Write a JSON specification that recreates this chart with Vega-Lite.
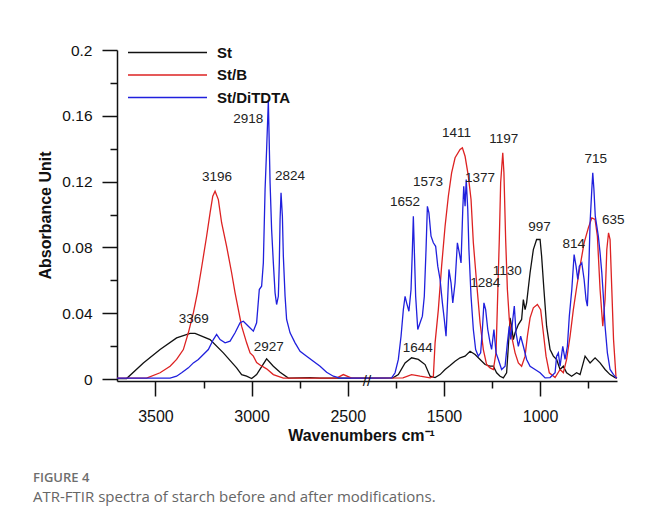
{
  "$schema": "https://vega.github.io/schema/vega-lite/v6.json",
  "width": 500,
  "height": 331,
  "autosize": "none",
  "padding": {"left": 117, "top": 50, "right": 29, "bottom": 145},
  "background": "white",
  "config": {"font": "Liberation Sans", "view": {"stroke": null}},
  "datasets": {
    "spectra": [
      {"s":"St","wn":600,"a":0.0006},{"s":"St","wn":610,"a":0.0009},{"s":"St","wn":636,"a":0.0027},{"s":"St","wn":662,"a":0.0058},{"s":"St","wn":688,"a":0.0098},{"s":"St","wn":714,"a":0.0129},{"s":"St","wn":740,"a":0.0098},{"s":"St","wn":766,"a":0.0139},{"s":"St","wn":792,"a":0.0027},{"s":"St","wn":810,"a":0.0038},{"s":"St","wn":836,"a":0.0017},{"s":"St","wn":862,"a":0.0038},{"s":"St","wn":879,"a":0.0078},{"s":"St","wn":896,"a":0.0058},{"s":"St","wn":914,"a":0.0119},{"s":"St","wn":931,"a":0.0139},{"s":"St","wn":948,"a":0.0179},{"s":"St","wn":966,"a":0.0321},{"s":"St","wn":980,"a":0.0544},{"s":"St","wn":992,"a":0.0747},{"s":"St","wn":1000,"a":0.0848},{"s":"St","wn":1018,"a":0.0848},{"s":"St","wn":1035,"a":0.0787},{"s":"St","wn":1052,"a":0.0646},{"s":"St","wn":1070,"a":0.0463},{"s":"St","wn":1078,"a":0.0422},{"s":"St","wn":1087,"a":0.0483},{"s":"St","wn":1096,"a":0.0362},{"s":"St","wn":1113,"a":0.0331},{"s":"St","wn":1130,"a":0.0281},{"s":"St","wn":1139,"a":0.024},{"s":"St","wn":1148,"a":0.0321},{"s":"St","wn":1156,"a":0.0372},{"s":"St","wn":1165,"a":0.0199},{"s":"St","wn":1174,"a":0.0038},{"s":"St","wn":1191,"a":0.0007},{"s":"St","wn":1208,"a":0.0017},{"s":"St","wn":1226,"a":0.0038},{"s":"St","wn":1243,"a":0.0078},{"s":"St","wn":1260,"a":0.0078},{"s":"St","wn":1286,"a":0.0088},{"s":"St","wn":1312,"a":0.0119},{"s":"St","wn":1338,"a":0.0149},{"s":"St","wn":1364,"a":0.0169},{"s":"St","wn":1390,"a":0.0139},{"s":"St","wn":1416,"a":0.0129},{"s":"St","wn":1442,"a":0.0108},{"s":"St","wn":1468,"a":0.0082},{"s":"St","wn":1494,"a":0.0058},{"s":"St","wn":1520,"a":0.0027},{"s":"St","wn":1546,"a":0.0009},{"s":"St","wn":1572,"a":0.0017},{"s":"St","wn":1598,"a":0.0088},{"s":"St","wn":1633,"a":0.0119},{"s":"St","wn":1668,"a":0.0129},{"s":"St","wn":1702,"a":0.0098},{"s":"St","wn":1737,"a":0.0027},{"s":"St","wn":1765,"a":0.0007},{"s":"St","wn":1900,"a":0.0006},
      {"s":"St","wn":2400,"a":0.0006},{"s":"St","wn":2644,"a":0.0006},{"s":"St","wn":2696,"a":0.0009},{"s":"St","wn":2809,"a":0.0006},{"s":"St","wn":2852,"a":0.0041},{"s":"St","wn":2887,"a":0.0078},{"s":"St","wn":2922,"a":0.0123},{"s":"St","wn":2974,"a":0.0027},{"s":"St","wn":3000,"a":0.0003},{"s":"St","wn":3026,"a":0.0017},{"s":"St","wn":3052,"a":0.0027},{"s":"St","wn":3078,"a":0.0068},{"s":"St","wn":3147,"a":0.0159},{"s":"St","wn":3216,"a":0.024},{"s":"St","wn":3294,"a":0.0278},{"s":"St","wn":3320,"a":0.0277},{"s":"St","wn":3390,"a":0.025},{"s":"St","wn":3476,"a":0.0179},{"s":"St","wn":3563,"a":0.0098},{"s":"St","wn":3650,"a":0.0003},{"s":"St","wn":3700,"a":0.0003},

      {"s":"St/B","wn":600,"a":0.0006},{"s":"St/B","wn":605,"a":0.0007},{"s":"St/B","wn":618,"a":0.024},{"s":"St/B","wn":627,"a":0.0544},{"s":"St/B","wn":636,"a":0.0848},{"s":"St/B","wn":644,"a":0.0889},{"s":"St/B","wn":653,"a":0.0787},{"s":"St/B","wn":662,"a":0.0483},{"s":"St/B","wn":674,"a":0.0321},{"s":"St/B","wn":688,"a":0.0544},{"s":"St/B","wn":702,"a":0.0868},{"s":"St/B","wn":714,"a":0.097},{"s":"St/B","wn":731,"a":0.098},{"s":"St/B","wn":749,"a":0.0919},{"s":"St/B","wn":771,"a":0.0828},{"s":"St/B","wn":792,"a":0.0686},{"s":"St/B","wn":809,"a":0.0564},{"s":"St/B","wn":827,"a":0.0422},{"s":"St/B","wn":844,"a":0.026},{"s":"St/B","wn":862,"a":0.0119},{"s":"St/B","wn":879,"a":0.0038},{"s":"St/B","wn":896,"a":0.0058},{"s":"St/B","wn":922,"a":0.0009},{"s":"St/B","wn":952,"a":0.0038},{"s":"St/B","wn":969,"a":0.0139},{"s":"St/B","wn":983,"a":0.0281},{"s":"St/B","wn":997,"a":0.0422},{"s":"St/B","wn":1014,"a":0.0453},{"s":"St/B","wn":1035,"a":0.0433},{"s":"St/B","wn":1052,"a":0.0372},{"s":"St/B","wn":1066,"a":0.026},{"s":"St/B","wn":1078,"a":0.0139},{"s":"St/B","wn":1096,"a":0.0078},{"s":"St/B","wn":1113,"a":0.0098},{"s":"St/B","wn":1130,"a":0.0159},{"s":"St/B","wn":1148,"a":0.026},{"s":"St/B","wn":1160,"a":0.0362},{"s":"St/B","wn":1170,"a":0.0544},{"s":"St/B","wn":1179,"a":0.0848},{"s":"St/B","wn":1188,"a":0.1253},{"s":"St/B","wn":1194,"a":0.1375},{"s":"St/B","wn":1205,"a":0.1193},{"s":"St/B","wn":1212,"a":0.0848},{"s":"St/B","wn":1222,"a":0.0443},{"s":"St/B","wn":1229,"a":0.0161},{"s":"St/B","wn":1243,"a":0.0058},{"s":"St/B","wn":1260,"a":0.0068},{"s":"St/B","wn":1278,"a":0.0088},{"s":"St/B","wn":1295,"a":0.0179},{"s":"St/B","wn":1312,"a":0.0342},{"s":"St/B","wn":1330,"a":0.0585},{"s":"St/B","wn":1347,"a":0.0828},{"s":"St/B","wn":1359,"a":0.1091},{"s":"St/B","wn":1373,"a":0.1233},{"s":"St/B","wn":1390,"a":0.1354},{"s":"St/B","wn":1404,"a":0.1405},{"s":"St/B","wn":1416,"a":0.1395},{"s":"St/B","wn":1442,"a":0.1345},{"s":"St/B","wn":1460,"a":0.1253},{"s":"St/B","wn":1477,"a":0.1111},{"s":"St/B","wn":1494,"a":0.0929},{"s":"St/B","wn":1512,"a":0.0686},{"s":"St/B","wn":1529,"a":0.0422},{"s":"St/B","wn":1546,"a":0.022},{"s":"St/B","wn":1555,"a":0.0015},{"s":"St/B","wn":1572,"a":0.0007},{"s":"St/B","wn":1624,"a":0.0017},{"s":"St/B","wn":1668,"a":0.0027},{"s":"St/B","wn":1713,"a":0.0007},{"s":"St/B","wn":1900,"a":0.0006},
      {"s":"St/B","wn":2400,"a":0.0006},{"s":"St/B","wn":2480,"a":0.0006},{"s":"St/B","wn":2523,"a":0.0027},{"s":"St/B","wn":2558,"a":0.0006},{"s":"St/B","wn":2835,"a":0.0006},{"s":"St/B","wn":2887,"a":0.0027},{"s":"St/B","wn":2922,"a":0.0062},{"s":"St/B","wn":2956,"a":0.0085},{"s":"St/B","wn":2974,"a":0.01},{"s":"St/B","wn":2991,"a":0.0139},{"s":"St/B","wn":3008,"a":0.0159},{"s":"St/B","wn":3026,"a":0.022},{"s":"St/B","wn":3052,"a":0.0321},{"s":"St/B","wn":3086,"a":0.0524},{"s":"St/B","wn":3104,"a":0.0646},{"s":"St/B","wn":3130,"a":0.0807},{"s":"St/B","wn":3156,"a":0.095},{"s":"St/B","wn":3173,"a":0.1091},{"s":"St/B","wn":3190,"a":0.1142},{"s":"St/B","wn":3202,"a":0.1111},{"s":"St/B","wn":3216,"a":0.101},{"s":"St/B","wn":3234,"a":0.0868},{"s":"St/B","wn":3260,"a":0.0678},{"s":"St/B","wn":3282,"a":0.0524},{"s":"St/B","wn":3303,"a":0.0402},{"s":"St/B","wn":3329,"a":0.0281},{"s":"St/B","wn":3355,"a":0.0179},{"s":"St/B","wn":3390,"a":0.0119},{"s":"St/B","wn":3424,"a":0.0078},{"s":"St/B","wn":3476,"a":0.0038},{"s":"St/B","wn":3546,"a":0.0006},{"s":"St/B","wn":3700,"a":0.0006},

      {"s":"St/DiTDTA","wn":600,"a":0.0006},{"s":"St/DiTDTA","wn":605,"a":0.0009},{"s":"St/DiTDTA","wn":618,"a":0.0027},{"s":"St/DiTDTA","wn":636,"a":0.0058},{"s":"St/DiTDTA","wn":650,"a":0.0159},{"s":"St/DiTDTA","wn":662,"a":0.0321},{"s":"St/DiTDTA","wn":671,"a":0.0503},{"s":"St/DiTDTA","wn":679,"a":0.0646},{"s":"St/DiTDTA","wn":688,"a":0.0767},{"s":"St/DiTDTA","wn":697,"a":0.0868},{"s":"St/DiTDTA","wn":705,"a":0.0929},{"s":"St/DiTDTA","wn":713,"a":0.099},{"s":"St/DiTDTA","wn":720,"a":0.1152},{"s":"St/DiTDTA","wn":726,"a":0.1253},{"s":"St/DiTDTA","wn":731,"a":0.1152},{"s":"St/DiTDTA","wn":740,"a":0.095},{"s":"St/DiTDTA","wn":747,"a":0.0646},{"s":"St/DiTDTA","wn":754,"a":0.0443},{"s":"St/DiTDTA","wn":761,"a":0.0483},{"s":"St/DiTDTA","wn":771,"a":0.0605},{"s":"St/DiTDTA","wn":783,"a":0.0706},{"s":"St/DiTDTA","wn":796,"a":0.0686},{"s":"St/DiTDTA","wn":804,"a":0.0605},{"s":"St/DiTDTA","wn":813,"a":0.0686},{"s":"St/DiTDTA","wn":823,"a":0.0757},{"s":"St/DiTDTA","wn":835,"a":0.0544},{"s":"St/DiTDTA","wn":848,"a":0.0382},{"s":"St/DiTDTA","wn":858,"a":0.0199},{"s":"St/DiTDTA","wn":870,"a":0.0119},{"s":"St/DiTDTA","wn":882,"a":0.0199},{"s":"St/DiTDTA","wn":896,"a":0.0078},{"s":"St/DiTDTA","wn":905,"a":0.0159},{"s":"St/DiTDTA","wn":914,"a":0.0139},{"s":"St/DiTDTA","wn":922,"a":0.0038},{"s":"St/DiTDTA","wn":948,"a":0.0009},{"s":"St/DiTDTA","wn":974,"a":0.0007},{"s":"St/DiTDTA","wn":1000,"a":0.0038},{"s":"St/DiTDTA","wn":1026,"a":0.0058},{"s":"St/DiTDTA","wn":1052,"a":0.0078},{"s":"St/DiTDTA","wn":1070,"a":0.0119},{"s":"St/DiTDTA","wn":1087,"a":0.0199},{"s":"St/DiTDTA","wn":1101,"a":0.026},{"s":"St/DiTDTA","wn":1113,"a":0.0199},{"s":"St/DiTDTA","wn":1125,"a":0.0281},{"s":"St/DiTDTA","wn":1134,"a":0.0443},{"s":"St/DiTDTA","wn":1142,"a":0.0362},{"s":"St/DiTDTA","wn":1153,"a":0.024},{"s":"St/DiTDTA","wn":1160,"a":0.0321},{"s":"St/DiTDTA","wn":1170,"a":0.022},{"s":"St/DiTDTA","wn":1182,"a":0.0078},{"s":"St/DiTDTA","wn":1200,"a":0.0058},{"s":"St/DiTDTA","wn":1217,"a":0.0119},{"s":"St/DiTDTA","wn":1229,"a":0.0159},{"s":"St/DiTDTA","wn":1240,"a":0.0301},{"s":"St/DiTDTA","wn":1252,"a":0.018},{"s":"St/DiTDTA","wn":1260,"a":0.022},{"s":"St/DiTDTA","wn":1272,"a":0.0301},{"s":"St/DiTDTA","wn":1283,"a":0.0422},{"s":"St/DiTDTA","wn":1292,"a":0.0463},{"s":"St/DiTDTA","wn":1300,"a":0.0301},{"s":"St/DiTDTA","wn":1309,"a":0.0159},{"s":"St/DiTDTA","wn":1321,"a":0.0139},{"s":"St/DiTDTA","wn":1335,"a":0.0179},{"s":"St/DiTDTA","wn":1347,"a":0.0301},{"s":"St/DiTDTA","wn":1359,"a":0.0503},{"s":"St/DiTDTA","wn":1370,"a":0.0787},{"s":"St/DiTDTA","wn":1376,"a":0.103},{"s":"St/DiTDTA","wn":1384,"a":0.1213},{"s":"St/DiTDTA","wn":1390,"a":0.105},{"s":"St/DiTDTA","wn":1397,"a":0.1172},{"s":"St/DiTDTA","wn":1402,"a":0.103},{"s":"St/DiTDTA","wn":1411,"a":0.0706},{"s":"St/DiTDTA","wn":1420,"a":0.0767},{"s":"St/DiTDTA","wn":1430,"a":0.0828},{"s":"St/DiTDTA","wn":1442,"a":0.0585},{"s":"St/DiTDTA","wn":1454,"a":0.0463},{"s":"St/DiTDTA","wn":1463,"a":0.0585},{"s":"St/DiTDTA","wn":1474,"a":0.0666},{"s":"St/DiTDTA","wn":1480,"a":0.0503},{"s":"St/DiTDTA","wn":1489,"a":0.026},{"s":"St/DiTDTA","wn":1498,"a":0.0362},{"s":"St/DiTDTA","wn":1508,"a":0.0463},{"s":"St/DiTDTA","wn":1520,"a":0.0605},{"s":"St/DiTDTA","wn":1532,"a":0.0686},{"s":"St/DiTDTA","wn":1543,"a":0.0807},{"s":"St/DiTDTA","wn":1555,"a":0.0828},{"s":"St/DiTDTA","wn":1567,"a":0.0868},{"s":"St/DiTDTA","wn":1578,"a":0.101},{"s":"St/DiTDTA","wn":1586,"a":0.105},{"s":"St/DiTDTA","wn":1593,"a":0.0787},{"s":"St/DiTDTA","wn":1602,"a":0.0503},{"s":"St/DiTDTA","wn":1612,"a":0.0382},{"s":"St/DiTDTA","wn":1624,"a":0.0342},{"s":"St/DiTDTA","wn":1636,"a":0.0301},{"s":"St/DiTDTA","wn":1647,"a":0.0503},{"s":"St/DiTDTA","wn":1654,"a":0.0787},{"s":"St/DiTDTA","wn":1659,"a":0.099},{"s":"St/DiTDTA","wn":1664,"a":0.0787},{"s":"St/DiTDTA","wn":1671,"a":0.0544},{"s":"St/DiTDTA","wn":1682,"a":0.0412},{"s":"St/DiTDTA","wn":1694,"a":0.0463},{"s":"St/DiTDTA","wn":1702,"a":0.0503},{"s":"St/DiTDTA","wn":1711,"a":0.0422},{"s":"St/DiTDTA","wn":1723,"a":0.026},{"s":"St/DiTDTA","wn":1737,"a":0.0119},{"s":"St/DiTDTA","wn":1754,"a":0.0038},{"s":"St/DiTDTA","wn":1772,"a":0.0007},{"s":"St/DiTDTA","wn":1900,"a":0.0006},
      {"s":"St/DiTDTA","wn":2400,"a":0.0006},{"s":"St/DiTDTA","wn":2540,"a":0.0006},{"s":"St/DiTDTA","wn":2575,"a":0.0017},{"s":"St/DiTDTA","wn":2610,"a":0.0041},{"s":"St/DiTDTA","wn":2644,"a":0.0078},{"s":"St/DiTDTA","wn":2679,"a":0.0108},{"s":"St/DiTDTA","wn":2714,"a":0.0139},{"s":"St/DiTDTA","wn":2748,"a":0.0169},{"s":"St/DiTDTA","wn":2774,"a":0.022},{"s":"St/DiTDTA","wn":2800,"a":0.0281},{"s":"St/DiTDTA","wn":2818,"a":0.0362},{"s":"St/DiTDTA","wn":2826,"a":0.0503},{"s":"St/DiTDTA","wn":2835,"a":0.0747},{"s":"St/DiTDTA","wn":2840,"a":0.099},{"s":"St/DiTDTA","wn":2847,"a":0.1132},{"s":"St/DiTDTA","wn":2852,"a":0.097},{"s":"St/DiTDTA","wn":2856,"a":0.0706},{"s":"St/DiTDTA","wn":2861,"a":0.0503},{"s":"St/DiTDTA","wn":2870,"a":0.0453},{"s":"St/DiTDTA","wn":2878,"a":0.0524},{"s":"St/DiTDTA","wn":2887,"a":0.0706},{"s":"St/DiTDTA","wn":2896,"a":0.0909},{"s":"St/DiTDTA","wn":2904,"a":0.1193},{"s":"St/DiTDTA","wn":2913,"a":0.1693},{"s":"St/DiTDTA","wn":2922,"a":0.1395},{"s":"St/DiTDTA","wn":2930,"a":0.1152},{"s":"St/DiTDTA","wn":2939,"a":0.0706},{"s":"St/DiTDTA","wn":2948,"a":0.0564},{"s":"St/DiTDTA","wn":2960,"a":0.0544},{"s":"St/DiTDTA","wn":2974,"a":0.0342},{"s":"St/DiTDTA","wn":2991,"a":0.0291},{"s":"St/DiTDTA","wn":3017,"a":0.0321},{"s":"St/DiTDTA","wn":3043,"a":0.0351},{"s":"St/DiTDTA","wn":3060,"a":0.0342},{"s":"St/DiTDTA","wn":3086,"a":0.0281},{"s":"St/DiTDTA","wn":3112,"a":0.023},{"s":"St/DiTDTA","wn":3138,"a":0.022},{"s":"St/DiTDTA","wn":3164,"a":0.024},{"s":"St/DiTDTA","wn":3182,"a":0.0271},{"s":"St/DiTDTA","wn":3199,"a":0.024},{"s":"St/DiTDTA","wn":3225,"a":0.0179},{"s":"St/DiTDTA","wn":3251,"a":0.0149},{"s":"St/DiTDTA","wn":3277,"a":0.0119},{"s":"St/DiTDTA","wn":3303,"a":0.0098},{"s":"St/DiTDTA","wn":3329,"a":0.0068},{"s":"St/DiTDTA","wn":3364,"a":0.0038},{"s":"St/DiTDTA","wn":3390,"a":0.0017},{"s":"St/DiTDTA","wn":3424,"a":0.0006},{"s":"St/DiTDTA","wn":3700,"a":0.0006}
    ],
    "peaks": [
      {"wn":3301,"a":0.0362,"label":"3369"},{"wn":3180,"a":0.1229,"label":"3196"},{"wn":3017,"a":0.1578,"label":"2918"},{"wn":2800,"a":0.1233,"label":"2824"},{"wn":2911,"a":0.0196,"label":"2927"},{"wn":1434,"a":0.1497,"label":"1411"},{"wn":1189,"a":0.146,"label":"1197"},{"wn":710,"a":0.1339,"label":"715"},{"wn":1583,"a":0.1199,"label":"1573"},{"wn":1312,"a":0.1219,"label":"1377"},{"wn":1702,"a":0.1077,"label":"1652"},{"wn":619,"a":0.0964,"label":"635"},{"wn":1003,"a":0.0925,"label":"997"},{"wn":825,"a":0.0818,"label":"814"},{"wn":1285,"a":0.0581,"label":"1284"},{"wn":1171,"a":0.0655,"label":"1130"},{"wn":1636,"a":0.019,"label":"1644"}
    ],
    "axisbreak": [
      {"wn":2400,"a":0.0,"label":"//"}
    ]
  },
  "title": {
    "text": "FIGURE 4",
    "subtitle": "ATR-FTIR spectra of starch before and after modifications.",
    "orient": "bottom",
    "anchor": "start",
    "frame": "group",
    "dx": -84,
    "offset": 29,
    "font": "Open Sans",
    "fontSize": 13,
    "fontWeight": 600,
    "color": "#6e6e6e",
    "subtitleFont": "Open Sans",
    "subtitleFontSize": 15,
    "subtitleColor": "#666666",
    "subtitlePadding": 5
  },
  "encoding": {
    "x": {
      "field": "wn",
      "type": "quantitative",
      "scale": {"domain": [3700, 2400, 1900, 600], "range": [0, 250, 250, 500], "nice": false, "zero": false},
      "axis": {
        "values": [3500, 3250, 3000, 2750, 2500, 1750, 1500, 1250, 1000, 750],
        "format": "d",
        "labelExpr": "datum.value % 500 === 0 ? datum.label : ''",
        "tickSize": {"condition": {"test": "datum.value % 500 === 0", "value": 15}, "value": 7},
        "labelFontSize": 16,
        "labelPadding": 12,
        "labelColor": "#111111",
        "labelFlush": false,
        "labelOverlap": false,
        "domainColor": "#111111",
        "domainWidth": 1.5,
        "tickColor": "#111111",
        "tickWidth": 1.5,
        "grid": false,
        "title": "Wavenumbers cm⁻¹",
        "titleFontSize": 16,
        "titleFontWeight": "bold",
        "titleColor": "#111111",
        "titleX": 244,
        "titleY": 59,
        "titleAlign": "center",
        "titleBaseline": "alphabetic"
      }
    },
    "y": {
      "field": "a",
      "type": "quantitative",
      "scale": {"domain": [-0.0012, 0.2], "nice": false, "zero": false},
      "axis": {
        "values": [0, 0.02, 0.04, 0.06, 0.08, 0.1, 0.12, 0.14, 0.16, 0.18, 0.2],
        "labelExpr": "round(datum.value * 100) % 4 === 0 ? format(datum.value, '~g') : ''",
        "tickSize": {"condition": {"test": "round(datum.value * 100) % 4 === 0", "value": 15}, "value": 7},
        "labelFontSize": 15.5,
        "labelPadding": 10,
        "labelColor": "#111111",
        "labelFlush": false,
        "labelOverlap": false,
        "domainColor": "#111111",
        "domainWidth": 1.5,
        "tickColor": "#111111",
        "tickWidth": 1.5,
        "grid": false,
        "title": "Absorbance Unit",
        "titleFontSize": 16,
        "titleFontWeight": "bold",
        "titleColor": "#111111",
        "titleAngle": -90,
        "titleX": -67,
        "titleY": 165,
        "titleAlign": "center",
        "titleBaseline": "alphabetic"
      }
    }
  },
  "layer": [
    {
      "data": {"name": "spectra"},
      "mark": {"type": "line", "strokeWidth": 1.3},
      "encoding": {
        "color": {
          "field": "s",
          "type": "nominal",
          "scale": {"domain": ["St", "St/B", "St/DiTDTA"], "range": ["#111111", "#dd2222", "#2020dd"]},
          "legend": {
            "orient": "none",
            "legendX": 10,
            "legendY": -8.5,
            "title": null,
            "symbolType": "stroke",
            "symbolSize": 6241,
            "symbolStrokeWidth": 1.3,
            "clipHeight": 22,
            "rowPadding": 0.5,
            "labelOffset": 9,
            "labelFontSize": 15,
            "labelFontWeight": "bold",
            "labelColor": "#111111",
            "labelLimit": 200,
            "padding": 0
          }
        }
      }
    },
    {
      "data": {"name": "peaks"},
      "mark": {"type": "text", "fontSize": 13.5, "color": "#222222", "align": "center", "baseline": "middle"},
      "encoding": {"text": {"field": "label"}}
    },
    {
      "data": {"name": "axisbreak"},
      "mark": {"type": "text", "fontSize": 15, "color": "#111111", "align": "center", "baseline": "middle", "dy": 2},
      "encoding": {"text": {"field": "label"}}
    }
  ]
}
